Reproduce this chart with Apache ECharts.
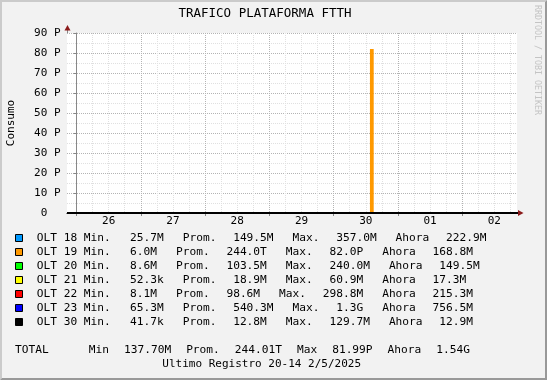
<!DOCTYPE html>
<html><head><meta charset="utf-8">
<script src="https://cdn.jsdelivr.net/npm/echarts@6/dist/echarts.min.js"></script>
<style>html,body{margin:0;padding:0;background:#f2f2f2}#c{width:547px;height:380px}</style>
</head><body><div id="c"></div>
<script>
// ---------- data ----------
const chartTitle = 'TRAFICO PLATAFORMA FTTH';
const yAxisName = 'Consumo';
const watermark = 'RRDTOOL / TOBI OETIKER';
const footer = 'Ultimo Registro 20-14 2/5/2025';
const dayLabels = ['26', '27', '28', '29', '30', '01', '02'];
// time in hours, relative to day "26" 00:00
const timeStart = -3.55;
const timeEnd = 164.45;
const yMax = 90e15;
const yStep = 10e15;
const seriesNames = ['OLT 18', 'OLT 19', 'OLT 20', 'OLT 21', 'OLT 22', 'OLT 23', 'OLT 30'];
const seriesColors = ['#0099ff', '#ff9900', '#00ff00', '#ffff00', '#ff0000', '#0000ff', '#000000'];
const minVals  = ['25.7M', '6.0M', '8.6M', '52.3k', '8.1M', '65.3M', '41.7k'];
const promVals = ['149.5M', '244.0T', '103.5M', '18.9M', '98.6M', '540.3M', '12.8M'];
const maxVals  = ['357.0M', '82.0P', '240.0M', '60.9M', '298.8M', '1.3G', '129.7M'];
const nowVals  = ['222.9M', '168.8M', '149.5M', '17.3M', '215.3M', '756.5M', '12.9M'];
// OLT 19 spike (hours, value)
const olt19Times  = [-3.55, 109.55, 110.95, 164.45];
const olt19Values = [168.8e6, 82.0e15, 168.8e6, 168.8e6];
const totalLabels = ['Min', 'Prom.', 'Max', 'Ahora'];
const totalVals = ['137.70M', '244.01T', '81.99P', '1.54G'];

// ---------- helpers ----------
const FONT = 'DejaVu Sans Mono';
const LFS = 11.2;
const SUF = {k: 1e3, M: 1e6, G: 1e9, T: 1e12, P: 1e15};
function parseVal(s) { const u = s.slice(-1); return parseFloat(s) * (SUF[u] || 1); }
const nowRaw = nowVals.map(parseVal);
const midnights = dayLabels.map((d, i) => i * 24);
const noons = dayLabels.map((d, i) => i * 24 + 12);
const sixHours = [];
for (let h = 0; h < timeEnd; h += 6) if (h % 24 !== 0) sixHours.push(h);

const chart = echarts.init(document.getElementById('c'), null, {renderer: 'canvas', width: 547, height: 380});

const series = seriesNames.map((name, i) => {
  if (i === 1) {
    return {
      name, type: 'line', step: 'end', symbol: 'none', silent: true,
      data: olt19Times.map((t, k) => [t, olt19Values[k]]),
      lineStyle: {width: 0, color: seriesColors[i]},
      areaStyle: {color: seriesColors[i], opacity: 1},
      itemStyle: {color: seriesColors[i]}
    };
  }
  return {
    name, type: 'line', symbol: 'none', silent: true,
    data: [[timeStart, nowRaw[i]], [timeEnd, nowRaw[i]]],
    lineStyle: {width: i === 6 ? 2 : 1, color: seriesColors[i]},
    itemStyle: {color: seriesColors[i]}
  };
});

const MAJOR = '#b4b4b4', MINOR = '#e0e0e0';
const option = {
  backgroundColor: '#f2f2f2',
  animation: false,
  title: {
    text: chartTitle, left: 265, top: 7, padding: 0, textAlign: 'center', textVerticalAlign: 'top',
    textStyle: {fontFamily: FONT, fontSize: 12.5, lineHeight: 14, fontWeight: 'normal', color: '#000'}
  },
  grid: {left: 67, top: 33, width: 450, height: 180, show: true, backgroundColor: '#ffffff', borderWidth: 0,
         containLabel: false, outerBoundsMode: 'none'},
  xAxis: [
    {
      type: 'value', min: timeStart, max: timeEnd, position: 'bottom',
      axisLine: {show: true, onZero: false, lineStyle: {color: '#000', width: 1}},
      axisTick: {show: true, customValues: midnights, length: 3, lineStyle: {color: '#888'}},
      axisLabel: {
        customValues: noons, margin: 3, fontFamily: FONT, fontSize: 11, color: '#000',
        formatter: v => dayLabels[Math.round((v - 12) / 24)]
      },
      splitLine: {show: true, lineStyle: {color: MAJOR, type: [1, 1]}}
    },
    {
      type: 'value', min: timeStart, max: timeEnd, position: 'bottom',
      axisLine: {show: false}, axisLabel: {show: false},
      axisTick: {show: false, customValues: sixHours},
      splitLine: {show: true, lineStyle: {color: MINOR, type: [1, 1]}}
    }
  ],
  yAxis: {
    type: 'value', min: 0, max: yMax, interval: yStep,
    name: yAxisName, nameLocation: 'middle', nameGap: 50.5,
    nameTextStyle: {fontFamily: FONT, fontSize: 11, color: '#000'},
    axisLine: {show: true, lineStyle: {color: '#888'}},
    axisTick: {show: true, length: 3, lineStyle: {color: '#888'}},
    axisLabel: {
      margin: 6.5, fontFamily: FONT, fontSize: 11, color: '#000',
      formatter: v => v === 0 ? '0  ' : Math.round(v / 1e15) + ' P'
    },
    splitLine: {show: true, lineStyle: {color: MAJOR, type: [1, 1]}},
    minorTick: {show: false, splitNumber: 2},
    minorSplitLine: {show: true, lineStyle: {color: MINOR, type: [1, 1]}}
  },
  series
};
chart.setOption(option);

// ---------- decorations & legend ----------
const pOrig = chart.convertToPixel({gridIndex: 0}, [timeStart, 0]);
const pEnd = chart.convertToPixel({gridIndex: 0}, [timeEnd, yMax]);
const ax = Math.round(pOrig[0]), ay = Math.round(pOrig[1]);
const ex = Math.round(pEnd[0]), ey = Math.round(pEnd[1]);
const ARROW = '#8b1a1a';
const g = [];
// border
g.push({type: 'polygon', silent: true, shape: {points: [[0,0],[547,0],[545,2],[2,2],[2,378],[0,380]]}, style: {fill: '#cbcbcb'}});
g.push({type: 'polygon', silent: true, shape: {points: [[547,0],[547,380],[0,380],[2,378],[545,378],[545,2]]}, style: {fill: '#999999'}});
// axis extensions and arrows
g.push({type: 'line', silent: true, shape: {x1: ax + 0.5, y1: ey, x2: ax + 0.5, y2: ey - 4}, style: {stroke: '#888', lineWidth: 1}});
g.push({type: 'polygon', silent: true, shape: {points: [[ax - 2.5, ey - 2.5], [ax + 3.5, ey - 2.5], [ax + 0.5, ey - 8]]}, style: {fill: ARROW}});
g.push({type: 'line', silent: true, shape: {x1: ex, y1: ay, x2: ex + 2, y2: ay}, style: {stroke: '#000', lineWidth: 2}});
g.push({type: 'polygon', silent: true, shape: {points: [[ex + 1, ay - 3], [ex + 1, ay + 3], [ex + 6.5, ay]]}, style: {fill: ARROW}});
// watermark
g.push({type: 'text', silent: true, x: 537.5, y: 5, rotation: -Math.PI / 2,
  style: {text: watermark, fontFamily: FONT, fontSize: 8.3, fill: '#c4c4c4', align: 'left', verticalAlign: 'middle'}});

// legend rows
const rich = {
  l0: {fontFamily: FONT, fontSize: LFS, padding: [0, 19.3, 0, 0]},
  l:  {fontFamily: FONT, fontSize: LFS, padding: [0, 16.7, 0, 0]},
  v:  {fontFamily: FONT, fontSize: LFS, padding: [0, 19, 0, 0]},
  e:  {fontFamily: FONT, fontSize: LFS},
  t0: {fontFamily: FONT, fontSize: LFS, padding: [0, 40, 0, 0]},
  t:  {fontFamily: FONT, fontSize: LFS, padding: [0, 15, 0, 0]}
};
seriesNames.forEach((name, i) => {
  const y = 238.3 + 14 * i;
  g.push({type: 'rect', silent: true, shape: {x: 15.5, y: Math.round(y) - 3.5, width: 7, height: 7},
    style: {fill: seriesColors[i], stroke: '#000', lineWidth: 1}});
  const toks = [[name + ' Min.', 'l0'], [minVals[i], 'v'], ['Prom.', 'l'], [promVals[i], 'v'],
                ['Max.', 'l'], [maxVals[i], 'v'], ['Ahora', 'l'], [nowVals[i], 'e']];
  g.push({type: 'text', silent: true, x: 36.7, y: y,
    style: {text: toks.map(([t, s]) => '{' + s + '|' + t + '}').join(''), rich,
      fontFamily: FONT, fontSize: LFS, fill: '#000', align: 'left', verticalAlign: 'middle'}});
});
// total row
const ttoks = [['TOTAL', 't0']];
totalLabels.forEach((l, k) => { ttoks.push([l, 't']); ttoks.push([totalVals[k], k === totalLabels.length - 1 ? 'e' : 't']); });
g.push({type: 'text', silent: true, x: 15.1, y: 350.3,
  style: {text: ttoks.map(([t, s]) => '{' + s + '|' + t + '}').join(''), rich,
    fontFamily: FONT, fontSize: LFS, fill: '#000', align: 'left', verticalAlign: 'middle'}});
g.push({type: 'text', silent: true, x: 261.7, y: 364.3,
  style: {text: footer, fontFamily: FONT, fontSize: 11, fill: '#000', align: 'center', verticalAlign: 'middle'}});

chart.setOption({graphic: g});
</script>
</body></html>
